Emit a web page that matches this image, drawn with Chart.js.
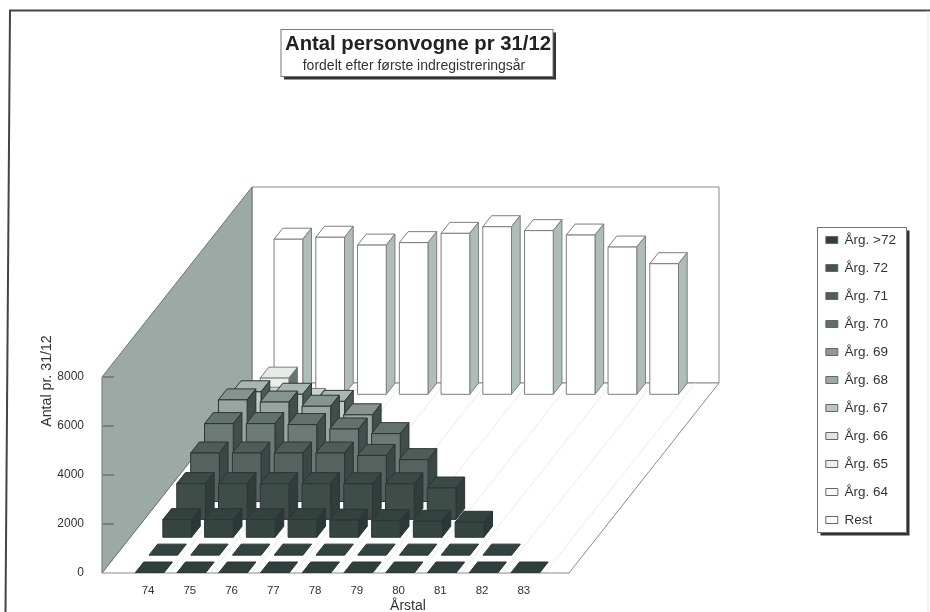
<!DOCTYPE html>
<html lang="da">
<head>
<meta charset="UTF-8">
<title>Antal personvogne pr 31/12</title>
<script src="https://cdn.jsdelivr.net/npm/chart.js"></script>
<style>
    body { margin: 0; background: #fff; }
    canvas { display: block; }
</style>
</head>
<body>
<canvas id="chart" width="930" height="612"></canvas>
<script>
    const titleText = 'Antal personvogne pr 31/12';
    const subtitleText = 'fordelt efter første indregistreringsår';
    const xTitle = 'Årstal';
    const yTitle = 'Antal pr. 31/12';

    const years = [74, 75, 76, 77, 78, 79, 80, 81, 82, 83];
    const yTicks = [0, 2000, 4000, 6000, 8000];
    const seriesNames = ['Årg. >72', 'Årg. 72', 'Årg. 71', 'Årg. 70', 'Årg. 69', 'Årg. 68',
        'Årg. 67', 'Årg. 66', 'Årg. 65', 'Årg. 64', 'Rest'];

    // each vintage starts in 74 and runs as far as it is drawn
    const argOver72 = [0, 0, 0, 0, 0, 0, 0, 0, 0, 0];
    const arg72 = [0, 0, 0, 0, 0, 0, 0, 0, 0];
    const arg71 = [720, 720, 720, 720, 700, 680, 650, 610];
    const arg70 = [1460, 1460, 1460, 1460, 1450, 1450, 1280];
    const arg69 = [1980, 1980, 1980, 1980, 1880, 1710];
    const arg68 = [2450, 2450, 2410, 2230, 2040];
    const arg67 = [2690, 2600, 2430, 2080];
    const arg66 = [2290, 2190, 1900];
    const arg65 = [1300, 1250];
    const arg64 = [1390];
    const rest = [6330, 6410, 6090, 6190, 6570, 6840, 6680, 6500, 6010, 5330];
    const seriesValues = [argOver72, arg72, arg71, arg70, arg69, arg68, arg67, arg66, arg65, arg64, rest];

    const legendColors = ['#2f3f3c', '#445250', '#505c5a', '#616d6b', '#8b9993', '#9aa9a3',
        '#b8c6bf', '#dfe5e1', '#eceeec', '#f8f8f8', '#ffffff'];
    const frontColors = ['#2f3f3c', '#33433f', '#36453f', '#3f4d49', '#55625e', '#6d7b76',
        '#98a6a0', '#bdc9c3', '#dde4df', '#e9eee9', '#ffffff'];
    const topColors = ['#2f3f3c', '#33433f', '#33423e', '#3c4a46', '#4f5c58', '#64726d',
        '#85948e', '#aab7b1', '#c8d2cc', '#e4eae5', '#ffffff'];
    const sideColors = ['#2a3835', '#2a3835', '#2b3936', '#303d3a', '#3a4744', '#414e4a',
        '#414e4a', '#4c5956', '#5c6965', '#66736f', '#aebdb5'];

    // oblique projection of the floor
    const rowDx = 13.9, rowDy = -17.87;
    const barWidth = 28.7, barLeft = -13, barDx = 8.7, barDy = -11;
    const floorDx = 150, floorDy = -190, floorWidth = 467, categoryStep = 41.7;

    const font = 'Liberation Sans, Arial, sans-serif';

    function face(ctx, points, fill, stroke) {
        ctx.beginPath();
        points.forEach((p, i) => i ? ctx.lineTo(p[0], p[1]) : ctx.moveTo(p[0], p[1]));
        ctx.closePath();
        ctx.fillStyle = fill;
        ctx.fill();
        ctx.strokeStyle = stroke;
        ctx.stroke();
    }

    // BarController that paints each value as a box standing on its own row of the floor
    class Bar3DController extends Chart.BarController {
        draw() {
            const ctx = this.chart.ctx;
            const meta = this.getMeta();
            const row = this.index;
            const ds = this.getDataset();
            ctx.save();
            ctx.lineWidth = 1;
            for (let i = 0; i < meta.data.length; i++) {
                const p = this.getParsed(i);
                const x0 = meta.iScale.getPixelForValue(p.x) + barLeft + row * rowDx;
                const x1 = x0 + barWidth;
                const base = meta.vScale.getPixelForValue(0) + row * rowDy;
                const top = meta.vScale.getPixelForValue(p.y) + row * rowDy;
                const stroke = ds.edgeColor;
                face(ctx, [[x0, top], [x0 + barDx, top + barDy], [x1 + barDx, top + barDy], [x1, top]], ds.topColor, stroke);
                if (p.y > 0) {
                    face(ctx, [[x1, base], [x1 + barDx, base + barDy], [x1 + barDx, top + barDy], [x1, top]], ds.sideColor, stroke);
                    face(ctx, [[x0, base], [x1, base], [x1, top], [x0, top]], ds.frontColor, stroke);
                }
            }
            ctx.restore();
        }
    }
    Bar3DController.id = 'bar3d';
    Bar3DController.defaults = Chart.BarController.defaults;
    Chart.register(Bar3DController);

    function shadowBox(ctx, x, y, w, h) {
        ctx.fillStyle = '#333';
        ctx.fillRect(x + 3, y + 3, w, h);
        ctx.fillStyle = '#fff';
        ctx.fillRect(x, y, w, h);
        ctx.strokeStyle = '#777';
        ctx.lineWidth = 1;
        ctx.strokeRect(x, y, w, h);
    }

    const decoration = {
        id: 'decoration',
        beforeDraw(chart) {
            const ctx = chart.ctx;
            const xs = chart.scales.x, ys = chart.scales.y;
            const x0 = xs.left, y0 = ys.getPixelForValue(0), yMax = ys.getPixelForValue(8000);
            ctx.save();
            ctx.fillStyle = '#fff';
            ctx.fillRect(0, 0, chart.width, chart.height);

            // page frame, the scan sits a little skewed
            ctx.strokeStyle = '#444';
            ctx.lineWidth = 2;
            ctx.beginPath();
            ctx.moveTo(930, 10.5);
            ctx.lineTo(10, 10.5);
            ctx.lineTo(5.5, 612);
            ctx.stroke();
            ctx.strokeStyle = '#e4e4e4';
            ctx.lineWidth = 1;
            ctx.beginPath();
            ctx.moveTo(928, 11);
            ctx.lineTo(928, 612);
            ctx.stroke();

            // walls and floor
            ctx.lineWidth = 1;
            face(ctx, [[x0 + floorDx, yMax + floorDy], [x0 + floorDx + floorWidth, yMax + floorDy],
                [x0 + floorDx + floorWidth, y0 + floorDy], [x0 + floorDx, y0 + floorDy]], '#fff', '#8a8a8a');
            face(ctx, [[x0, y0], [x0 + floorWidth, y0], [x0 + floorWidth + floorDx, y0 + floorDy], [x0 + floorDx, y0 + floorDy]], '#fff', '#8a8a8a');
            face(ctx, [[x0, y0], [x0, yMax], [x0 + floorDx, yMax + floorDy], [x0 + floorDx, y0 + floorDy]], '#9ca9a4', '#6c7672');

            // floor lines between the years
            ctx.strokeStyle = '#e8ebe9';
            years.forEach(v => {
                const x = xs.getPixelForValue(v) + barLeft + barWidth + 6;
                ctx.beginPath();
                ctx.moveTo(x, y0 - 1);
                ctx.lineTo(x + floorDx, y0 + floorDy);
                ctx.stroke();
            });

            // value ticks on the side wall
            ctx.strokeStyle = '#556';
            ys.ticks.forEach(t => {
                const y = ys.getPixelForValue(t.value);
                if (t.value === 0) return;
                ctx.beginPath();
                ctx.moveTo(x0 + 1, y);
                ctx.lineTo(x0 + 12, y);
                ctx.stroke();
            });

            // title box
            shadowBox(ctx, 281, 29.5, 272, 47);
            ctx.textAlign = 'center';
            ctx.textBaseline = 'middle';
            ctx.fillStyle = '#222';
            ctx.font = 'bold 20.3px ' + font;
            ctx.fillText(titleText, 418, 44);
            ctx.fillStyle = '#333';
            ctx.font = '14px ' + font;
            ctx.fillText(subtitleText, 414, 66);

            // legend box, the legend itself paints on top of it
            shadowBox(ctx, 817.5, 227.5, 89, 305);

            // axis titles
            ctx.fillStyle = '#333';
            ctx.font = '14px ' + font;
            ctx.fillText(xTitle, 408, 606);
            ctx.translate(47, 381);
            ctx.rotate(-Math.PI / 2);
            ctx.font = '14.2px ' + font;
            ctx.fillText(yTitle, 0, 0);
            ctx.restore();
        }
    };

    new Chart(document.getElementById('chart'), {
        type: 'bar3d',
        data: {
            datasets: seriesNames.map((name, i) => ({
                label: name,
                data: seriesValues[i].map((v, j) => ({ x: years[j], y: v })),
                backgroundColor: legendColors[i],
                borderColor: '#666',
                borderWidth: 1,
                frontColor: frontColors[i],
                topColor: topColors[i],
                sideColor: sideColors[i],
                edgeColor: i > 7 ? '#7d7d7d' : '#2c3533'
            }))
        },
        options: {
            responsive: false,
            animation: false,
            events: [],
            layout: { padding: { top: 148, right: 24 } },
            plugins: {
                tooltip: { enabled: false },
                legend: {
                    position: 'right',
                    labels: {
                        boxWidth: 12,
                        boxHeight: 7,
                        padding: 14.5,
                        color: '#333',
                        font: { family: font, size: 13.5 }
                    }
                }
            },
            scales: {
                x: {
                    type: 'linear',
                    offset: false,
                    bounds: 'data',
                    min: 74 - 46 / categoryStep,
                    max: 74 - 46 / categoryStep + 708.5 / categoryStep,
                    grid: { display: false, offset: false },
                    border: { display: false },
                    afterBuildTicks: s => { s.ticks = years.map(v => ({ value: v })); },
                    afterFit: s => { s.height = 39; },
                    ticks: {
                        autoSkip: false,
                        maxRotation: 0,
                        padding: 3,
                        color: '#333',
                        font: { family: font, size: 11.5 },
                        callback: v => String(v)
                    }
                },
                y: {
                    type: 'linear',
                    bounds: 'data',
                    min: 0,
                    max: 425 / 0.0245,
                    grid: { display: false },
                    border: { display: false },
                    afterBuildTicks: s => { s.ticks = yTicks.map(v => ({ value: v })); },
                    afterFit: s => { s.width = 102; },
                    ticks: {
                        autoSkip: false,
                        padding: 10,
                        color: '#333',
                        font: { family: font, size: 12 },
                        callback: v => String(v)
                    }
                }
            }
        },
        plugins: [decoration]
    });
</script>
</body>
</html>
